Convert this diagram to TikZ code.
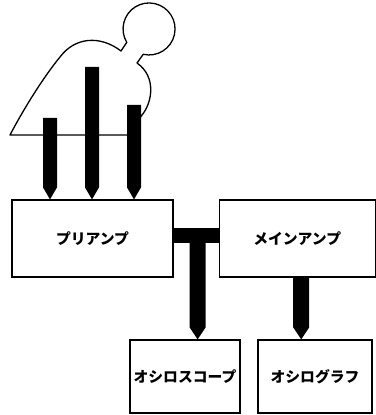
\documentclass[tikz,border=0pt]{standalone}
\usepackage{fontspec}
\setmainfont{Noto Sans CJK JP}
\usetikzlibrary{positioning,calc}

\begin{document}
\begin{tikzpicture}[x=1pt,y=1pt,
		block/.style={draw, line width=1.2pt, inner sep=0pt, font=\fontsize{14.8}{16}\selectfont\bfseries},
		body/.style={draw, line width=1.3pt, line join=round},
		bar/.style={fill=black, to path={
				($(\tikztostart)+(-#1,0)$) -- ($(\tikztotarget)+(-#1,12pt)$) -- (\tikztotarget)
				-- ($(\tikztotarget)+(#1,12pt)$) -- ($(\tikztostart)+(#1,0)$) -- cycle}},
		bar/.default=7pt,
		node distance=45pt]
	\useasboundingbox (0,0) rectangle (375,415);

	% amplifiers and recorders
	\node[block, minimum width=161pt, minimum height=77pt] (pre) at (92.5,176.5) {プリアンプ};
	\node[block, minimum width=156pt, minimum height=77pt, right=45pt of pre] (main) {メインアンプ};
	\node[block, minimum width=110pt, minimum height=73pt] (scope) at (185,38.5) {オシロスコープ};
	\node[block, minimum width=114pt, minimum height=73pt] (graph) at (315,38.5) {オシログラフ};

	% the person with electrodes
	\draw[body] (143.2,360.7) arc[start angle=257, end angle=571, radius=26]
		-- (121,364) .. controls (100,380) and (75,378) .. (60,358)
		.. controls (42,336) and (22,303) .. (10,280) -- (128,280)
		-- (142,300) .. controls (152,312) and (157,338) .. (137,352) -- cycle;

	\coordinate (p1) at (50,297);
	\coordinate (p2) at (92,348);
	\coordinate (p3) at (134,310);
	\path[bar] (p1) to (p1 |- pre.north);
	\path[bar] (p2) to (p2 |- pre.north);
	\path[bar] (p3) to (p3 |- pre.north);

	% signal paths
	\coordinate (jn) at ($(pre.east)!0.5!(main.west)+(1.5pt,3pt)$);
	\draw[line width=15pt] (pre.east |- jn) -- (main.west |- jn);
	\path[bar=8pt] (jn) to (jn |- scope.north);
	\path[bar=8pt] ([xshift=4pt]main.south) to ([xshift=4pt]main.south |- graph.north);
\end{tikzpicture}
\end{document}
